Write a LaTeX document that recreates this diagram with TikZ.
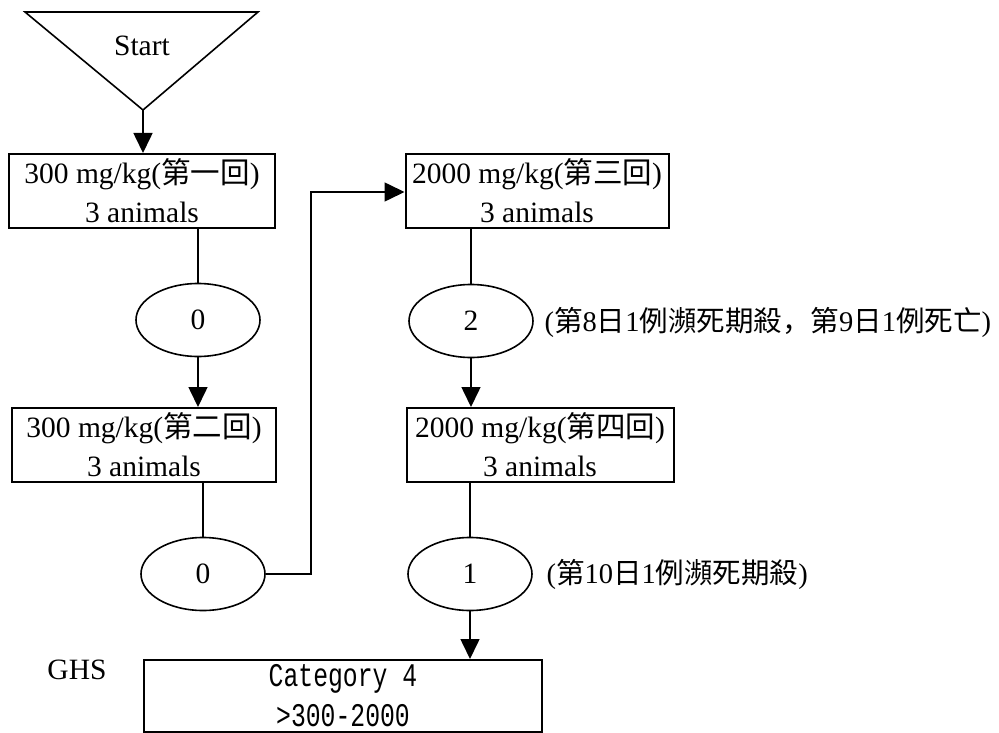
\documentclass[tikz,border=0pt]{standalone}
\usepackage{fontspec}
\setmainfont{Liberation Serif}
\newfontfamily\cjk{Noto Sans CJK TC}
\newfontfamily\cjksc{Noto Sans CJK SC}
\newfontfamily\catfont[FakeStretch=0.75]{Liberation Mono}
\newcommand{\zh}[1]{{\cjk #1}}
\usetikzlibrary{arrows.meta, shapes.geometric}

\begin{document}
\begin{tikzpicture}[x=1pt, y=-1pt,
			every node/.style={font=\fontsize{29.5}{39}\selectfont},
			dosebox/.style={draw, line width=2pt, inner sep=0pt, align=center},
			count/.style={draw, ellipse, line width=1.6pt, minimum width=124pt, minimum height=73pt, inner sep=0pt},
			link/.style={line width=1.6pt},
			arr/.style={line width=1.6pt, -{Triangle[length=20pt, width=19pt]}}]
			\useasboundingbox (0,0) rectangle (999,733);
			
			\coordinate (tip) at (143,110);
			\draw[line width=1.6pt] (25,12) -- (258,12) -- (tip) -- cycle;
			\node (start) at (142,46) {Start};
			
			\node[dosebox, minimum width=266pt, minimum height=74pt] (dose1) at (142,191) {300 mg/kg(\zh{第一回})\\3 animals};
			\node[count] (n1) at (198,320) {0};
			\node[dosebox, minimum width=264pt, minimum height=74pt] (dose2) at (144,445) {300 mg/kg(\zh{第二回})\\3 animals};
			\node[count] (n2) at (203,574) {0};
			
			\node[dosebox, minimum width=263pt, minimum height=73pt] (dose3) at (537,191) {2000 mg/kg(\zh{第三回})\\3 animals};
			\node[count] (n3) at (471,321) {2};
			\node[dosebox, minimum width=267pt, minimum height=74pt] (dose4) at (540,445) {2000 mg/kg(\zh{第四回})\\3 animals};
			\node[count] (n4) at (470,574) {1};
			
			\node[anchor=west, font=\fontsize{28.5}{36}\selectfont] (note3) at (541,322) {(\zh{第}8\zh{日}1\zh{例瀕死期殺}{\cjksc ，}\zh{第}9\zh{日}1\zh{例死亡})};
			\node[anchor=west, font=\fontsize{28.5}{36}\selectfont] (note4) at (543,574) {(\zh{第}10\zh{日}1\zh{例瀕死期殺})};
			
			\node (ghs) at (77,670) {GHS};
			\node[dosebox, minimum width=398pt, minimum height=72pt, font=\catfont\fontsize{33}{40}\selectfont] (cat) at (343,696) {Category 4\\>300-2000};
			
			\draw[arr] (tip) -- (tip |- dose1.north);
			\draw[link] (n1.north |- dose1.south) -- (n1.north);
			\draw[arr] (n1.south) -- (n1.south |- dose2.north);
			\draw[link] (n2.north |- dose2.south) -- (n2.north);
			\coordinate (turn) at (311,192);
			\draw[arr] (n2.east) -| (turn) -- (dose3.west |- turn);
			\draw[link] (n3.north |- dose3.south) -- (n3.north);
			\draw[arr] (n3.south) -- (n3.south |- dose4.north);
			\draw[link] (n4.north |- dose4.south) -- (n4.north);
			\draw[arr] (n4.south) -- (n4.south |- cat.north);
		\end{tikzpicture}
\end{document}
